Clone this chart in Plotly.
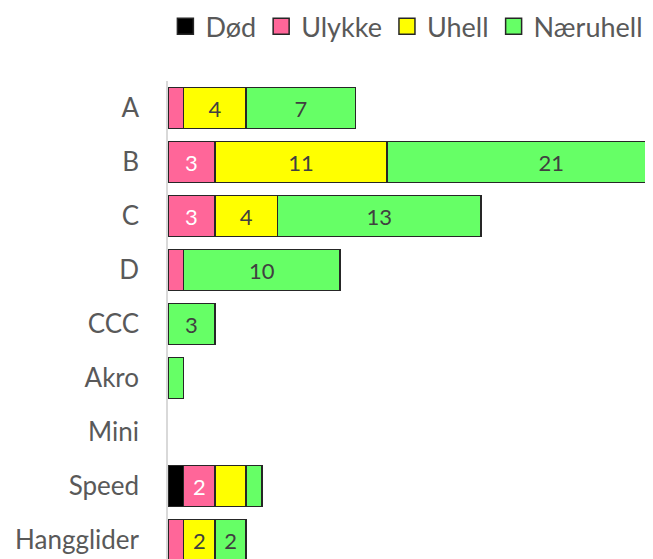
import plotly.graph_objects as go

categories = ["A", "B", "C", "D", "CCC", "Akro", "Mini", "Speed", "Hangglider"]
dod      = [0, 0, 0, 0, 0, 0, 0, 1, 0]
ulykke   = [1, 3, 3, 1, 0, 0, 0, 2, 1]
uhell    = [4, 11, 4, 0, 0, 0, 0, 2, 2]
naeruhell = [7, 21, 13, 10, 3, 1, 0, 1, 2]

# which values carry a data label in the original
lab_dod      = [0, 0, 0, 0, 0, 0, 0, 0, 0]
lab_ulykke   = [0, 1, 1, 0, 0, 0, 0, 1, 0]
lab_uhell    = [1, 1, 1, 0, 0, 0, 0, 0, 1]
lab_naeruhell = [1, 1, 1, 1, 1, 0, 0, 0, 1]

series = [
    ("Død", dod, lab_dod, "#000000", "#ffffff"),
    ("Ulykke", ulykke, lab_ulykke, "#ff6699", "#ffffff"),
    ("Uhell", uhell, lab_uhell, "#ffff00", "#404040"),
    ("Næruhell", naeruhell, lab_naeruhell, "#66ff66", "#404040"),
]

FONT = "Lato, Carlito, 'Open Sans', sans-serif"
EDGE = "#262626"

fig = go.Figure()
for name, vals, labs, color, tcol in series:
    texts = [str(v) if l else "" for v, l in zip(vals, labs)]
    fig.add_trace(go.Bar(
        name=name, y=categories, x=[v if v else None for v in vals],
        orientation="h", showlegend=False, legendgroup=name,
        marker=dict(color=color, line=dict(color=EDGE, width=1.5)),
        text=texts, textposition="inside", insidetextanchor="middle",
        textangle=0, constraintext="none",
        textfont=dict(color=tcol, size=22, family=FONT),
        hoverinfo="x+y+name",
    ))
# legend entries with larger square keys
for name, vals, labs, color, tcol in series:
    fig.add_trace(go.Scatter(
        name=name, x=[None], y=[None], mode="markers", legendgroup=name,
        marker=dict(symbol="square", size=16, color=color,
                    line=dict(color=EDGE, width=1.5)),
        hoverinfo="skip",
    ))

# page body has an 8px margin: shrink figure so it ends at window edges
fig.update_layout(
    barmode="stack",
    bargap=0.24,
    width=645, height=551,
    margin=dict(l=160, r=0, t=73, b=0),
    plot_bgcolor="white", paper_bgcolor="white",
    font=dict(family=FONT, color="#595959", size=26),
    showlegend=True,
    legend=dict(orientation="h", xref="container", x=0.244, xanchor="left",
                yref="container", y=0.966, yanchor="middle",
                font=dict(size=27, color="#595959", family=FONT),
                itemwidth=30, itemsizing="trace",
                traceorder="normal", tracegroupgap=0),
    xaxis=dict(range=[0, 31], showgrid=False, showticklabels=False,
               zeroline=False, showline=False, ticks=""),
    yaxis=dict(categoryorder="array", categoryarray=categories,
               range=[8.35, -0.5], showgrid=False, zeroline=False,
               showline=True, linecolor="#d9d9d9", linewidth=1.5,
               ticks="", ticklabelstandoff=22,
               tickfont=dict(size=26, color="#595959")),
)

fig.write_html("out.html")
